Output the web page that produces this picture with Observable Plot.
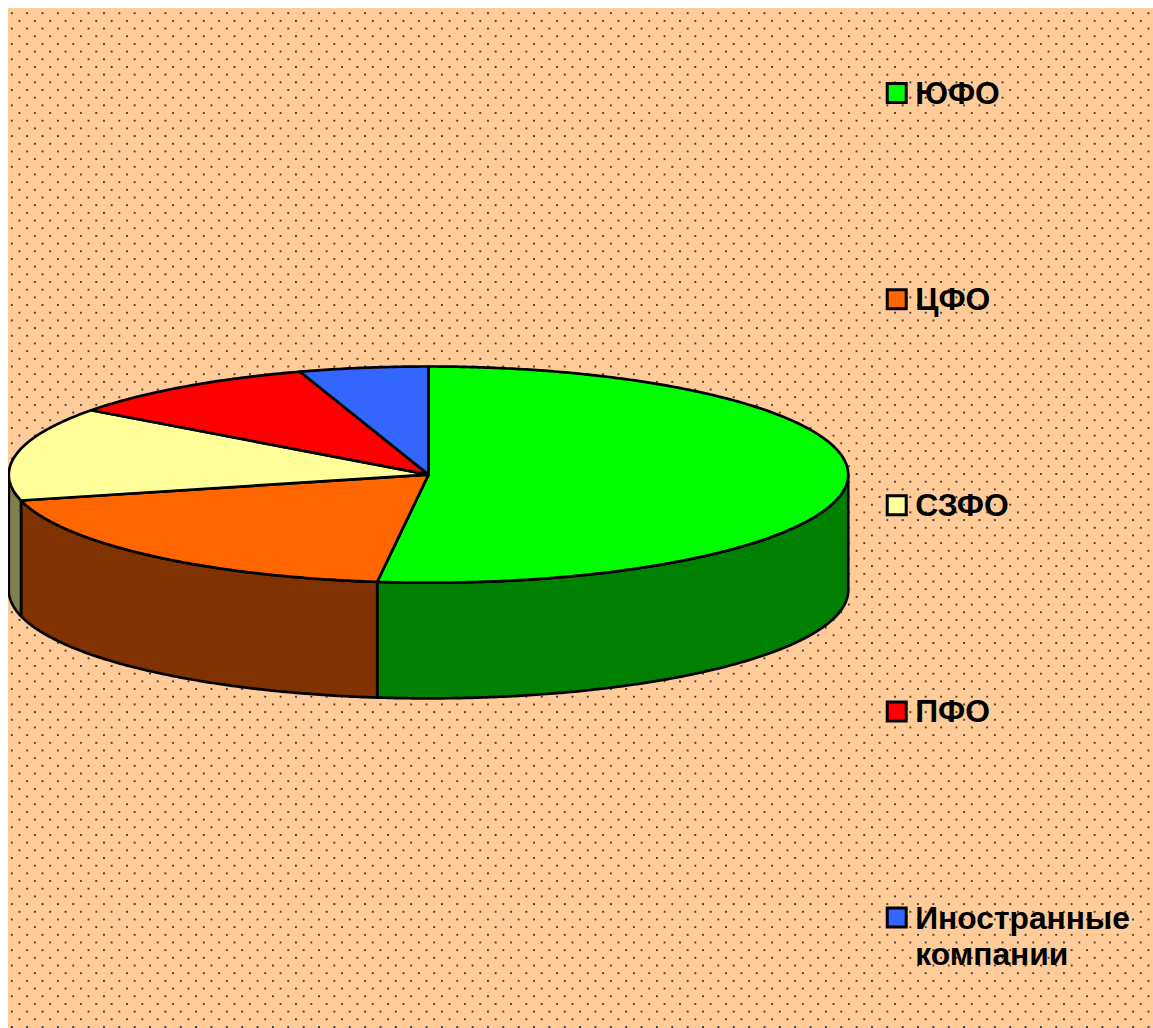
<!DOCTYPE html>
<html>
<head>
<meta charset="utf-8">
<script src="https://cdn.jsdelivr.net/npm/d3@7"></script>
<script src="https://cdn.jsdelivr.net/npm/@observablehq/plot@0.6"></script>
<style>
html,body{margin:0;padding:0;overflow:hidden;background:#fff}
body{padding:8px 0 0 8px}
svg{display:block}
</style>
</head>
<body>
<div id="chart"></div>
<script>
const categories = ["ЮФО", "ЦФО", "СЗФО", "ПФО", "Иностранные\nкомпании"];
const shares = [51.95, 19.2, 14, 9.9, 4.95];
const topColors = ["#00FF00", "#FF6600", "#FFFF99", "#FF0000", "#3366FF"];
const sideColors = ["#008000", "#803300", "#80804D", "#800000", "#1A3380"];

const depth = 1.07;              // pie thickness in units of the vertical radius
const rad = (d) => (d * Math.PI) / 180;
const rim = (deg, drop = 0) => ({x: Math.sin(rad(deg)), y: Math.cos(rad(deg)) - drop});
const arc = (a, b, drop = 0) => {
  const n = Math.max(2, Math.ceil(Math.abs(b - a) * 2));
  return d3.range(n + 1).map((i) => rim(a + ((b - a) * i) / n, drop));
};

const total = d3.sum(shares);
let running = 0;
const slices = shares.map((v, i) => {
  const start = (running / total) * 360;
  running += v;
  return {i, start, end: (running / total) * 360};
});

// visible rim: the front half of the pie
const sides = slices.flatMap(({i, start, end}) => {
  const a = Math.max(start, 90), b = Math.min(end, 270);
  if (a >= b) return [];
  const ring = [...arc(a, b), ...arc(b, a, depth)];
  ring.push(ring[0]);
  return ring.map((p) => ({...p, key: "s" + i, color: sideColors[i]}));
});
const tops = slices.flatMap(({i, start, end}) => {
  const ring = [{x: 0, y: 0}, ...arc(start, end), {x: 0, y: 0}];
  return ring.map((p) => ({...p, key: "t" + i, color: topColors[i]}));
});

const legendRows = categories.map((name, i) => ({name, color: topColors[i], row: i}));
const legendY = (d) => 3.53 - d.row * 1.907;

const dotPattern = () => {
  const defs = d3.create("svg:defs");
  const p = defs.append("pattern").attr("id", "dots").attr("patternUnits", "userSpaceOnUse")
    .attr("x", 3.3).attr("y", 4.7).attr("width", 15.36).attr("height", 15.36);
  for (const [cx, cy] of [[0, 0], [15.36, 0], [0, 15.36], [15.36, 15.36], [7.68, 7.68]]) {
    p.append("circle").attr("cx", cx).attr("cy", cy).attr("r", 0.95).attr("fill", "#111");
  }
  return defs.node();
};

const chart = Plot.plot({
  width: 1145,
  height: 1020,
  margin: 0,
  axis: null,
  style: {background: "#FFCC99", maxWidth: "none", fontFamily: "'Liberation Sans', Arial, sans-serif"},
  x: {domain: [-1, 1], range: [0.3, 839.7]},
  y: {domain: [1, -1], range: [358, 574.2]},
  color: {type: "identity"},
  marks: [
    dotPattern,
    Plot.frame({fill: "url(#dots)", stroke: "none"}),
    Plot.line(sides, {x: "x", y: "y", z: "key", fill: "color", stroke: "#000", strokeWidth: 2.7, curve: "linear", strokeLinejoin: "round"}),
    Plot.line(tops, {x: "x", y: "y", z: "key", fill: "color", stroke: "#000", strokeWidth: 2.7, curve: "linear", strokeLinejoin: "round"}),
    Plot.dot(legendRows, {x: () => 1.1156, y: legendY, fill: "color", stroke: "#000", strokeWidth: 3, symbol: "square", r: 10.7}),
    Plot.text(legendRows, {x: () => 1.1596, y: legendY, text: "name", textAnchor: "start", lineAnchor: "top", dy: -15.2, fontSize: 31.8, fontWeight: "bold", fill: "#000", lineHeight: 1.16})
  ]
});
document.getElementById("chart").appendChild(chart);
</script>
</body>
</html>
